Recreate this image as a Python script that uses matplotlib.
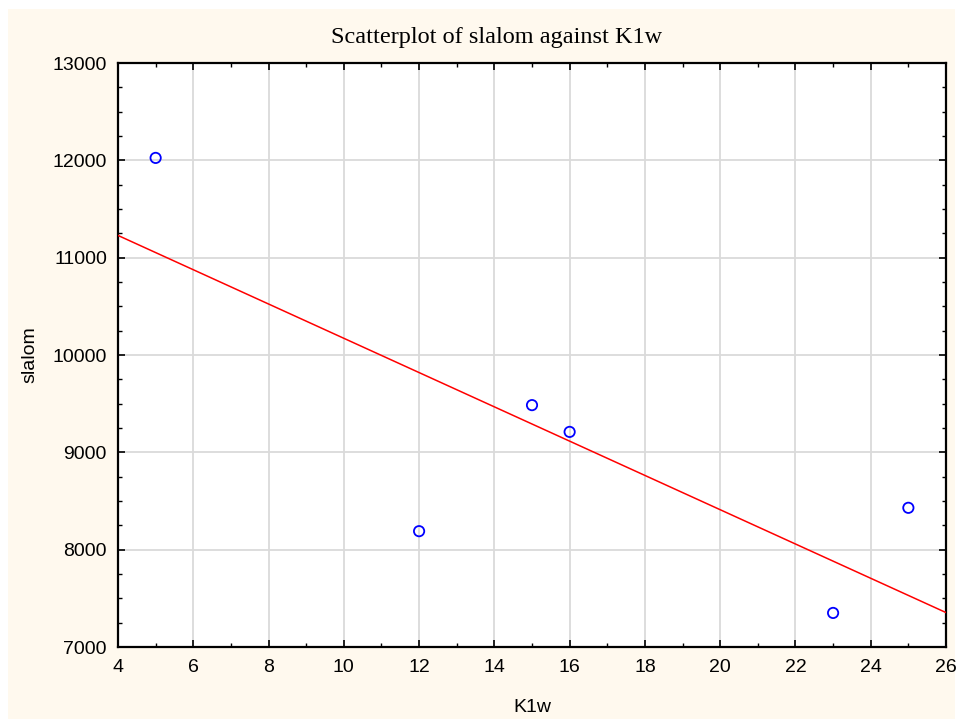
import numpy as np
import matplotlib.pyplot as plt
from matplotlib.patches import Rectangle
from matplotlib.ticker import MultipleLocator

# data
k1w = [5, 12, 15, 16, 23, 25]
slalom = [12025, 8190, 9485, 9210, 7350, 8430]

x_ticks = list(range(4, 27, 2))
y_ticks = list(range(7000, 13001, 1000))

cream = '#FFF9EE'
narrow = ['Liberation Sans Narrow', 'Liberation Sans', 'DejaVu Sans']

fig = plt.figure(figsize=(9.6, 7.22), dpi=100, facecolor='white')
fig.patches.append(Rectangle((8 / 960, 3 / 722), 947 / 960, 710 / 722,
                             transform=fig.transFigure, facecolor=cream,
                             edgecolor='none', zorder=-1))

W, H = 960, 722
left, right, top, bottom = 118, 946, 63, 647
ax = fig.add_axes([left / W, 1 - bottom / H, (right - left) / W, (bottom - top) / H])

# linear fit
slope, intercept = np.polyfit(k1w, slalom, 1)
xs = np.array([4, 26])
ax.plot(xs, intercept + slope * xs, color='red', lw=1.1, zorder=3)

ax.scatter(k1w, slalom, s=55, facecolors='none', edgecolors='blue', linewidths=1.3, zorder=4)

ax.set_xlim(4, 26)
ax.set_ylim(7000, 13000)
ax.set_xticks(x_ticks)
ax.set_yticks(y_ticks)
ax.xaxis.set_minor_locator(MultipleLocator(1))
ax.yaxis.set_minor_locator(MultipleLocator(250))
ax.grid(True, which='major', color='#DADADA', lw=1.3)
ax.set_axisbelow(True)

ax.tick_params(which='both', direction='in', top=True, right=True, color='black')
ax.tick_params(which='major', length=5, width=1.2)
ax.tick_params(which='minor', length=3, width=1)
ax.tick_params(axis='x', pad=9)
ax.tick_params(axis='y', pad=8)
for lab in ax.get_xticklabels() + ax.get_yticklabels():
    lab.set_family(narrow)
    lab.set_fontsize(14)
for s in ax.spines.values():
    s.set_linewidth(1.6)

fig.text(30 / W, 1 - 355 / H, 'slalom', rotation=90, ha='center', va='center',
         fontsize=14, family=narrow)
fig.text(532 / W, 1 - 707 / H, 'K1w', ha='center', va='center', fontsize=14, family=narrow)
fig.text(497 / W, 1 - 37 / H, 'Scatterplot of slalom against K1w', ha='center', va='center',
         fontsize=17.5, family=['Liberation Serif', 'DejaVu Serif'])

fig.savefig('out.png', dpi=100, facecolor='white')
